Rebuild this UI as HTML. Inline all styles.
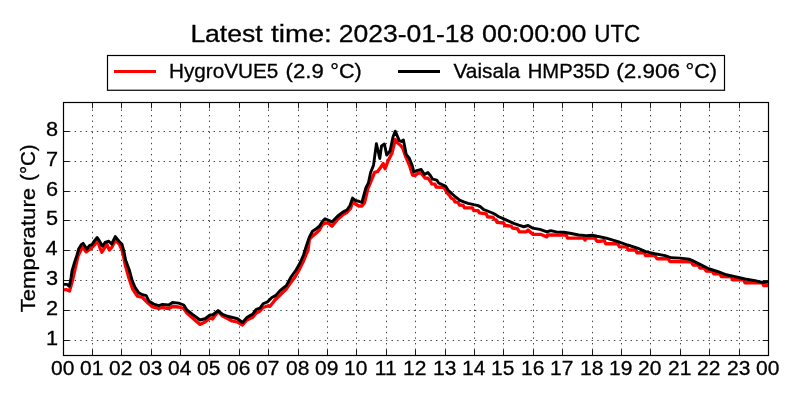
<!DOCTYPE html><html><head><meta charset="utf-8"><style>html,body{margin:0;padding:0;background:#fff;width:800px;height:400px;overflow:hidden}svg{display:block;will-change:transform}text{font-family:"Liberation Sans",sans-serif;fill:#000;stroke:#000;stroke-width:0.3px}</style></head><body>
<svg width="800" height="400" viewBox="0 0 800 400">
<rect width="800" height="400" fill="#fff"/>
<defs><clipPath id="ax"><rect x="63.5" y="102.5" width="705.0" height="253.0"/></clipPath></defs>
<path d="M92.5 355.5V102.5 M121.5 355.5V102.5 M151.5 355.5V102.5 M180.5 355.5V102.5 M209.5 355.5V102.5 M239.5 355.5V102.5 M268.5 355.5V102.5 M298.5 355.5V102.5 M327.5 355.5V102.5 M356.5 355.5V102.5 M386.5 355.5V102.5 M415.5 355.5V102.5 M445.5 355.5V102.5 M474.5 355.5V102.5 M503.5 355.5V102.5 M533.5 355.5V102.5 M562.5 355.5V102.5 M592.5 355.5V102.5 M621.5 355.5V102.5 M650.5 355.5V102.5 M680.5 355.5V102.5 M709.5 355.5V102.5 M739.5 355.5V102.5" stroke="#404040" stroke-width="1" stroke-dasharray="1.39 4.17" fill="none"/>
<path d="M63.5 131.5H768.5 M63.5 161.5H768.5 M63.5 191.5H768.5 M63.5 220.5H768.5 M63.5 250.5H768.5 M63.5 280.5H768.5 M63.5 310.5H768.5 M63.5 340.5H768.5" stroke="#404040" stroke-width="1" stroke-dasharray="1.39 4.17" fill="none"/>
<g clip-path="url(#ax)" fill="none" stroke-width="2.9" stroke-linejoin="round">
<polyline points="63.5,290 66,289.5 69.5,291 71.5,284 73.5,276 76,265 78.1,256 82.5,246.9 86.25,251.9 90.6,248.75 95,244.4 97.5,240.3 100,248.1 101.9,252.2 104.5,248 107,244.6 109.4,250 112,247 115.4,240.1 119.5,244.5 122,250 123.5,256 125,264 128.75,277.5 132.5,288.75 137.5,296.25 142.5,297.5 147.5,302.5 152.5,306.9 158.75,308.5 162.5,307.5 168.75,308.5 172.5,306.5 178.75,307 183.75,308.5 186.9,313 192.5,318 200,324.4 205,322 210,318 212.5,319 218.1,311.5 222.5,316 227.5,318.5 232,321 237.5,322 242.5,325 246.9,320 250,318.5 252.5,317.5 256.25,313 260,311 263.1,307.5 267.5,306 270,306.25 275,300 280,295 286.25,289 290,283.5 295,277 299,270 303,262 308,250 309.4,239.5 313,235.6 316.25,233 319.4,230 322.5,224.5 325,223 328.1,223 332,226.25 337.5,219.5 343.1,214.5 346.9,212.5 350.6,208.5 352.5,202 355.6,204 358.75,206 361.9,206 364.4,203 368,188.25 371.4,180.4 374.6,172.3 377.5,171.7 380.4,167.7 383.2,163.6 385,168.8 388.4,160.2 391.9,153.3 395.3,139.5 397.6,143 400.5,145.2 402.8,148.1 405.7,156.7 409.7,165.9 412.55,175.1 415.2,175.6 418.2,172.9 421,173 425,178 428,178.25 430.5,181.4 431.75,183.9 434.9,184.2 436.1,187 443.6,187.3 445.2,189.5 446.75,192.6 449.25,195.1 451.25,198.1 453.75,199.4 455,201.9 458.1,202.5 459.4,205 463.1,205.3 464.4,207.8 472.5,207.8 473.75,210.6 478.1,210.6 479.4,212.8 486.25,213.9 487.5,216.75 493.1,217.4 494.4,219.6 496.25,219.9 496.9,222.4 503.75,223 505,225.5 511.25,226.1 512.5,228 517.5,228.75 519.4,231.9 526.25,231.9 528.1,230 530,231.9 533.1,234.4 541.25,234.4 546.9,236.9 547.5,235 566.25,235 567.5,238.1 583.75,238.1 585,240 586.25,238.1 595,238.1 596.9,241.25 600,241.25 604.4,240.6 605.6,243.75 618.1,243.75 619.4,246.9 626.9,246.9 628.1,250 635.6,250 636.9,252.75 644.4,252.75 645.6,255.6 655,255.6 656.9,258.75 668.1,258.75 670,261.5 691.25,261.9 693.1,265 698.1,265 700,268.1 704.4,268.1 706.25,271 712.5,271.25 713.75,273.75 720,273.75 721.25,276.5 731.25,276.9 732.5,279.75 743.75,279.75 745,282.75 762.5,282.75 763.75,285.6 770,285.6" stroke="#f00" stroke-width="3.3"/>
<polyline points="63.5,284.4 66.9,284.4 69.4,286.25 71,278 72,271 74.5,262.5 77,255 78.75,248.75 81.25,244.7 83.1,243.4 85,246.25 86.9,249.1 89.4,245.6 91.9,244.7 94.4,240.9 97.2,237.5 100,241.9 102.5,246.25 105,242.5 108.75,241.25 111.6,244 115.3,236.6 119,241.25 121.9,244 123.75,250.6 125.6,260 129.4,270.3 132.2,280.6 135,287.2 138.75,292.9 142.5,294.7 146.25,295.7 149.1,301.3 153.75,304.1 158.75,305.6 162.5,304.4 168.75,305 172.5,302.5 178.75,303.1 183.75,305 186.9,310 192.5,314.4 200,320 205,318.75 210,315 212.5,315 218.1,310.6 222.5,314.4 227.5,316.25 237.5,318.75 242.5,322.5 246.9,317.5 250,315.6 252.5,314.4 256.25,309.4 260,308.1 263.1,303.75 267.5,301.9 271.9,297.5 275.6,295.6 280,290.6 286.25,285.6 291,277 296,270 300,263 303.5,255 306.25,246.25 309.4,236.9 312.5,231.25 316.25,228.75 319.4,226.25 322.5,221.25 325,218.75 328.1,220 331.9,221.9 337.5,216.25 343.1,211.9 346.9,210 350,205.5 352.5,198.1 355.6,200.6 358.75,201.25 361.9,202.5 365.75,188.25 368.4,183 370.6,172.5 373.5,165.4 376.4,143.8 379.8,158.5 381.5,146 384.4,144 386.7,155 390,151 393,137 395.2,131.2 399.3,140.6 401.5,141.5 403.4,140 406.2,154.4 409.1,157.9 412,165 413.9,172 417.4,170.3 421.25,169.4 424.4,174.4 428,172.6 430.5,175.75 432.7,179.2 436.75,180.1 438.9,183.25 441.4,184.2 445.8,186.4 448,190.1 450.8,192.6 453.1,194.7 456.25,197.5 460,200.3 463.75,201.9 468.1,203.4 473.75,204.7 478.1,205.6 480.6,206.9 483.75,209.6 487.5,211 492.5,213 495.6,214.6 498.75,216.75 503.75,218.9 508.75,221.1 513.75,223.3 518.75,225.2 523.75,226.75 528.1,225.5 532.5,228.1 540,229.4 546.9,231.9 550.6,230.6 556.25,231.9 563.75,232.25 571.25,233.5 578.75,235 586.25,235.6 592.5,235.25 596.9,236.25 606.25,238.1 618.75,241.9 627.5,245 637.5,248.1 646.25,251.9 655,253.75 665,255.6 671.25,257.75 680,258.1 689,259.2 692.5,260.6 700,264.4 708.75,268.75 718.75,271.9 726.25,274.75 736.25,276.9 745,279 755,280.6 762.5,282.5 770,282" stroke="#000"/>
</g>
<path d="M92.5 355.5v-5.8 M92.5 102.5v5.8 M121.5 355.5v-5.8 M121.5 102.5v5.8 M151.5 355.5v-5.8 M151.5 102.5v5.8 M180.5 355.5v-5.8 M180.5 102.5v5.8 M209.5 355.5v-5.8 M209.5 102.5v5.8 M239.5 355.5v-5.8 M239.5 102.5v5.8 M268.5 355.5v-5.8 M268.5 102.5v5.8 M298.5 355.5v-5.8 M298.5 102.5v5.8 M327.5 355.5v-5.8 M327.5 102.5v5.8 M356.5 355.5v-5.8 M356.5 102.5v5.8 M386.5 355.5v-5.8 M386.5 102.5v5.8 M415.5 355.5v-5.8 M415.5 102.5v5.8 M445.5 355.5v-5.8 M445.5 102.5v5.8 M474.5 355.5v-5.8 M474.5 102.5v5.8 M503.5 355.5v-5.8 M503.5 102.5v5.8 M533.5 355.5v-5.8 M533.5 102.5v5.8 M562.5 355.5v-5.8 M562.5 102.5v5.8 M592.5 355.5v-5.8 M592.5 102.5v5.8 M621.5 355.5v-5.8 M621.5 102.5v5.8 M650.5 355.5v-5.8 M650.5 102.5v5.8 M680.5 355.5v-5.8 M680.5 102.5v5.8 M709.5 355.5v-5.8 M709.5 102.5v5.8 M739.5 355.5v-5.8 M739.5 102.5v5.8 M63.5 131.5h5.8 M768.5 131.5h-5.8 M63.5 161.5h5.8 M768.5 161.5h-5.8 M63.5 191.5h5.8 M768.5 191.5h-5.8 M63.5 220.5h5.8 M768.5 220.5h-5.8 M63.5 250.5h5.8 M768.5 250.5h-5.8 M63.5 280.5h5.8 M768.5 280.5h-5.8 M63.5 310.5h5.8 M768.5 310.5h-5.8 M63.5 340.5h5.8 M768.5 340.5h-5.8" stroke="#1a1a1a" stroke-width="1" fill="none"/>
<rect x="63.5" y="102.5" width="705.0" height="253.0" fill="none" stroke="#000" stroke-width="1.2"/>
<text transform="translate(190.38 41.8) scale(1.0955 1)" font-size="24.2">Latest</text>
<text transform="translate(270.94 41.8) scale(1.1613 1)" font-size="24.2">time:</text>
<text transform="translate(338.67 41.8) scale(1.0955 1)" font-size="24.2">2023-01-18</text>
<text transform="translate(482.03 41.8) scale(1.1078 1)" font-size="24.2">00:00:00</text>
<text transform="translate(594.21 41.8) scale(0.9270 1)" font-size="24.2">UTC</text>
<rect x="107.5" y="55.5" width="617" height="34.75" fill="#fff" stroke="#000" stroke-width="1.2"/>
<path d="M114 71.5H156" stroke="#f00" stroke-width="2.9"/>
<path d="M398 71.5H440" stroke="#000" stroke-width="2.9"/>
<text transform="translate(168.94 78.1) scale(1.0148 1)" font-size="20.43">HygroVUE5</text>
<text transform="translate(285.57 78.1) scale(1.0844 1)" font-size="20.43">(2.9</text>
<text transform="translate(330.31 78.1) scale(1.0560 1)" font-size="20.43">°C)</text>
<text transform="translate(453.54 78.1) scale(1.0177 1)" font-size="20.43">Vaisala</text>
<text transform="translate(527.78 78.1) scale(0.9899 1)" font-size="20.43">HMP35D</text>
<text transform="translate(616.3 78.1) scale(1.0997 1)" font-size="20.43">(2.906</text>
<text transform="translate(685.5 78.1) scale(1.0633 1)" font-size="20.43">°C)</text>
<g transform="translate(35 311.9) rotate(-90)"><text transform="translate(-0.44 0) scale(1.1099 1)" font-size="20">Temperature</text><text transform="translate(130.97 0) scale(1.0240 1)" font-size="20">(°C)</text></g>
<text transform="translate(46.03 135.9) scale(1.1008 1)" font-size="19.71">8</text>
<text transform="translate(46.03 165.9) scale(1.1008 1)" font-size="19.71">7</text>
<text transform="translate(46.03 195.9) scale(1.1008 1)" font-size="19.71">6</text>
<text transform="translate(46.03 224.9) scale(1.1008 1)" font-size="19.71">5</text>
<text transform="translate(45.6 254.9) scale(1.1008 1)" font-size="19.71">4</text>
<text transform="translate(46.03 284.9) scale(1.1008 1)" font-size="19.71">3</text>
<text transform="translate(46.03 314.9) scale(1.1008 1)" font-size="19.71">2</text>
<text transform="translate(46.03 344.9) scale(1.1008 1)" font-size="19.71">1</text>
<text transform="translate(62.7 375) scale(1.0561 1)" font-size="19.86" text-anchor="middle">00</text>
<text transform="translate(91.7 375) scale(1.0561 1)" font-size="19.86" text-anchor="middle">01</text>
<text transform="translate(120.7 375) scale(1.0561 1)" font-size="19.86" text-anchor="middle">02</text>
<text transform="translate(150.7 375) scale(1.0561 1)" font-size="19.86" text-anchor="middle">03</text>
<text transform="translate(179.7 375) scale(1.0561 1)" font-size="19.86" text-anchor="middle">04</text>
<text transform="translate(208.7 375) scale(1.0561 1)" font-size="19.86" text-anchor="middle">05</text>
<text transform="translate(238.7 375) scale(1.0561 1)" font-size="19.86" text-anchor="middle">06</text>
<text transform="translate(267.7 375) scale(1.0561 1)" font-size="19.86" text-anchor="middle">07</text>
<text transform="translate(297.7 375) scale(1.0561 1)" font-size="19.86" text-anchor="middle">08</text>
<text transform="translate(326.7 375) scale(1.0561 1)" font-size="19.86" text-anchor="middle">09</text>
<text transform="translate(355.7 375) scale(1.0561 1)" font-size="19.86" text-anchor="middle">10</text>
<text transform="translate(385.7 375) scale(1.0561 1)" font-size="19.86" text-anchor="middle">11</text>
<text transform="translate(414.7 375) scale(1.0561 1)" font-size="19.86" text-anchor="middle">12</text>
<text transform="translate(444.7 375) scale(1.0561 1)" font-size="19.86" text-anchor="middle">13</text>
<text transform="translate(473.7 375) scale(1.0561 1)" font-size="19.86" text-anchor="middle">14</text>
<text transform="translate(502.7 375) scale(1.0561 1)" font-size="19.86" text-anchor="middle">15</text>
<text transform="translate(532.7 375) scale(1.0561 1)" font-size="19.86" text-anchor="middle">16</text>
<text transform="translate(561.7 375) scale(1.0561 1)" font-size="19.86" text-anchor="middle">17</text>
<text transform="translate(591.7 375) scale(1.0561 1)" font-size="19.86" text-anchor="middle">18</text>
<text transform="translate(620.7 375) scale(1.0561 1)" font-size="19.86" text-anchor="middle">19</text>
<text transform="translate(649.7 375) scale(1.0561 1)" font-size="19.86" text-anchor="middle">20</text>
<text transform="translate(679.7 375) scale(1.0561 1)" font-size="19.86" text-anchor="middle">21</text>
<text transform="translate(708.7 375) scale(1.0561 1)" font-size="19.86" text-anchor="middle">22</text>
<text transform="translate(738.7 375) scale(1.0561 1)" font-size="19.86" text-anchor="middle">23</text>
<text transform="translate(767.7 375) scale(1.0561 1)" font-size="19.86" text-anchor="middle">00</text>
</svg></body></html>
